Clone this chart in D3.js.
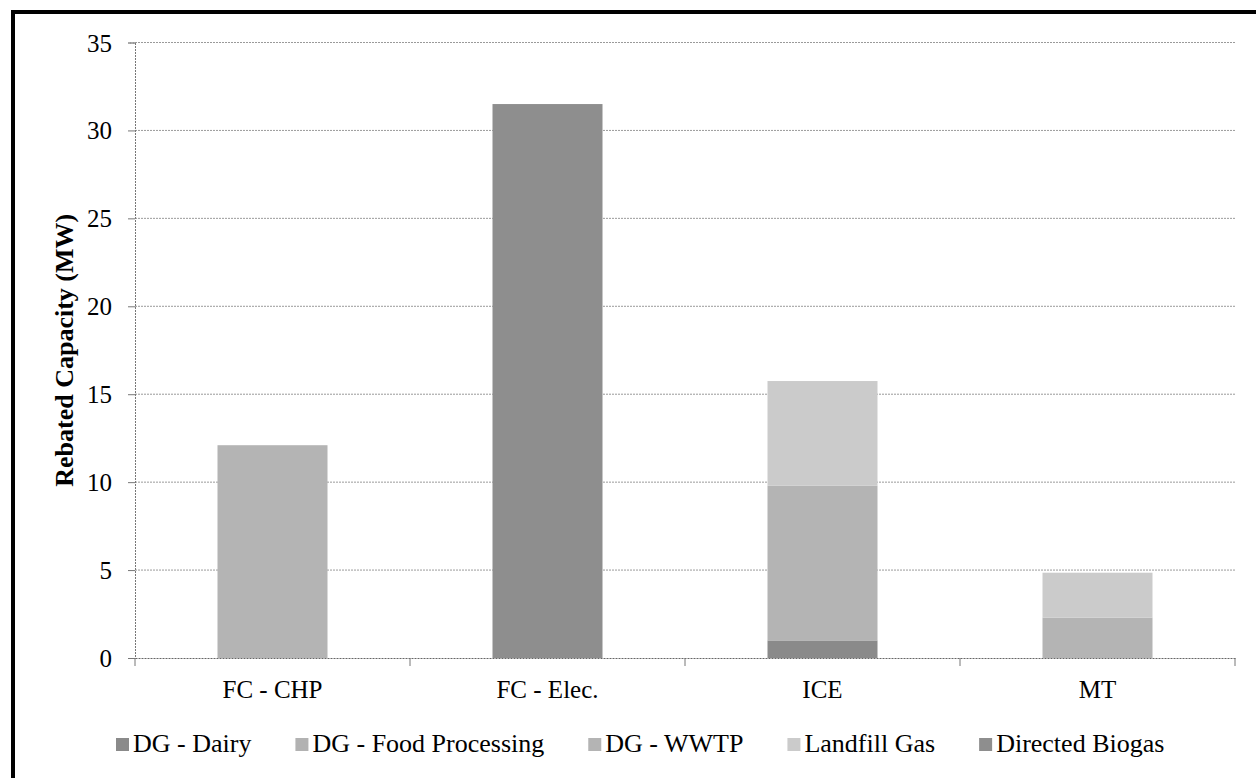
<!DOCTYPE html>
<html><head><meta charset="utf-8">
<script src="https://cdn.jsdelivr.net/npm/d3@7"></script>
<style>
html,body{margin:0;padding:0;background:#fff;}
svg{display:block;}
svg text{font-family:"Liberation Serif","Times New Roman",serif !important;fill:#000;}
</style></head>
<body>
<svg id="chart" width="1256" height="778"></svg>
<script>
const categories = ["FC - CHP", "FC - Elec.", "ICE", "MT"];
const seriesNames = ["DG - Dairy", "DG - Food Processing", "DG - WWTP", "Landfill Gas", "Directed Biogas"];
const dairy          = [0, 0, 1.0, 0];
const foodProcessing = [0, 0, 0, 0];
const wwtp           = [12.1, 0, 8.8, 2.3];
const landfillGas    = [0, 0, 5.95, 2.55];
const directedBiogas = [0, 31.5, 0, 0];
const yTicks = [0, 5, 10, 15, 20, 25, 30, 35];
const seriesColors = ["#8a8a8a", "#b2b2b2", "#b4b4b4", "#cbcbcb", "#8e8e8e"];

const seriesValues = [dairy, foodProcessing, wwtp, landfillGas, directedBiogas];
const rows = categories.map((c, i) => {
  const r = {cat: c};
  seriesNames.forEach((s, k) => r[s] = seriesValues[k][i]);
  return r;
});

const FONT = '"Liberation Serif","Times New Roman",serif';
const svg = d3.select("#chart");

// frame
svg.append("rect").attr("x", 13).attr("y", 12).attr("width", 1260).attr("height", 780)
  .attr("fill", "none").attr("stroke", "#000").attr("stroke-width", 4);

const m = {left: 135, right: 1235, top: 42.5, bottom: 658};
const x = d3.scaleBand().domain(categories).range([m.left, m.right]).padding(0);
const y = d3.scaleLinear().domain([0, 35]).range([m.bottom, m.top]);

// gridlines
svg.append("g").selectAll("line").data(yTicks.filter(t => t > 0)).join("line")
  .attr("x1", m.left).attr("x2", m.right)
  .attr("y1", d => y(d)).attr("y2", d => y(d))
  .attr("stroke", "#9a9a9a").attr("stroke-width", 1).attr("stroke-dasharray", "2,1");

// bars
const stack = d3.stack().keys(seriesNames)(rows);
const bw = x.bandwidth() * 0.4;
svg.append("g").selectAll("g").data(stack).join("g")
  .attr("fill", (d, i) => seriesColors[i])
  .selectAll("rect").data(d => d.filter(p => p[1] - p[0] > 0)).join("rect")
  .attr("x", d => x(d.data.cat) + (x.bandwidth() - bw) / 2)
  .attr("width", bw)
  .attr("y", d => y(d[1]))
  .attr("height", d => y(d[0]) - y(d[1]));

// y axis
const yAxis = d3.axisLeft(y).tickValues(yTicks).tickSize(7).tickPadding(16).tickFormat(d3.format("d"));
const gy = svg.append("g").attr("transform", `translate(${m.left},0)`).call(yAxis);
gy.attr("font-family", FONT);
gy.select(".domain").attr("stroke", "#777").attr("stroke-dasharray", "2,1");
gy.selectAll(".tick line").attr("stroke", "#777");
gy.selectAll(".tick text").style("font-size", "25px").attr("fill", "#000").attr("dy", "0.34em");

// x axis
const xAxis = d3.axisBottom(x).tickSize(0).tickPadding(0);
const gx = svg.append("g").attr("transform", `translate(0,${m.bottom})`).call(xAxis);
gx.attr("font-family", FONT);
gx.select(".domain").attr("stroke", "#666").attr("stroke-dasharray", "2,1");
gx.selectAll(".tick text").style("font-size", "25px").attr("fill", "#000").attr("dy", null).attr("y", 40);
// category dividers
svg.append("g").selectAll("line").data(categories.concat(["end"])).join("line")
  .attr("x1", (d, i) => i < categories.length ? x(d) : m.right)
  .attr("x2", (d, i) => i < categories.length ? x(d) : m.right)
  .attr("y1", m.bottom).attr("y2", m.bottom + 8)
  .attr("stroke", "#777");

// y title
svg.append("text").attr("transform", `translate(73,${(m.top + m.bottom) / 2}) rotate(-90)`)
  .attr("text-anchor", "middle")
  .style("font-size", "26px").style("font-weight", "bold").text("Rebated Capacity (MW)");

// legend
const lg = svg.append("g");
let lx = 116;
seriesNames.forEach((s, i) => {
  lg.append("rect").attr("x", lx).attr("y", 738).attr("width", 13).attr("height", 13)
    .attr("fill", seriesColors[i]);
  const t = lg.append("text").attr("x", lx + 17).attr("y", 752).style("font-size", "26px").text(s);
  lx += 17 + t.node().getComputedTextLength() + 44;
});
</script>
</body></html>
